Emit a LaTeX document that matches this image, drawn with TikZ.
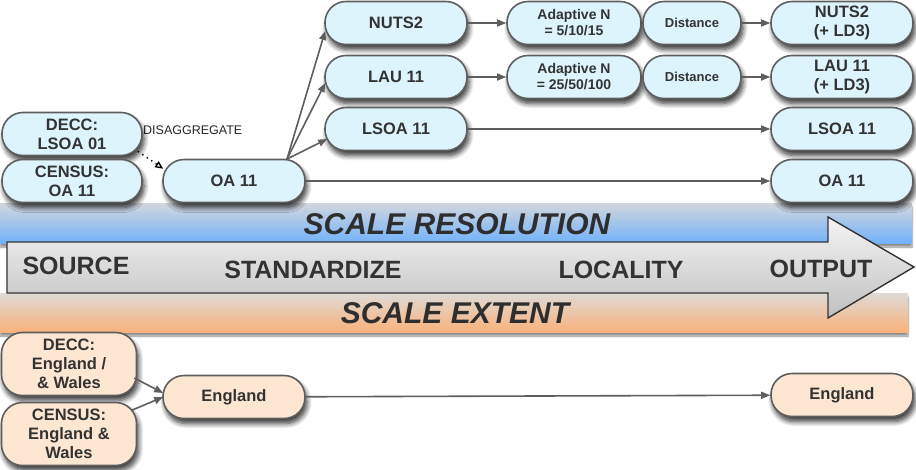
\documentclass[tikz,border=0pt]{standalone}
\usepackage{fontspec}
\setmainfont{Liberation Sans}
\usetikzlibrary{arrows.meta,shadows.blur,calc}
\definecolor{nodeblue}{HTML}{DDF4FD}
\definecolor{nodeorange}{HTML}{FDE6D2}
\definecolor{edge}{HTML}{5E5E5E}
\definecolor{txt}{HTML}{333333}
\definecolor{bandtop}{HTML}{D2D6DD}
\definecolor{bandblue}{HTML}{72B2FA}
\definecolor{bandorange}{HTML}{F9B27C}
\definecolor{bandotop}{HTML}{DEDAD6}
\tikzset{
  pill/.style={draw=edge, line width=1.6pt, rounded corners=21pt, minimum height=43pt,
    minimum width=142pt, inner sep=0pt, align=center, font=\bfseries\fontsize{16.5}{19}\selectfont,
    text=txt, fill=nodeblue, blur shadow={shadow xshift=2pt, shadow yshift=-5pt, shadow opacity=80, shadow blur steps=8, shadow blur radius=5pt}},
  small/.style={pill, font=\bfseries\fontsize{14}{16}\selectfont},
  orng/.style={fill=nodeorange},
  conn/.style={draw=edge, line width=1.6pt, -{Triangle[length=9pt,width=7pt]}},
  bigtxt/.style={text=txt, font=\bfseries\fontsize{25}{30}\selectfont, inner sep=0pt},
  bandtxt/.style={text=txt!90!black, font=\bfseries\itshape\fontsize{30}{36}\selectfont, inner sep=0pt},
  bandshadow/.style={blur shadow={shadow xshift=0pt, shadow yshift=-4pt, shadow opacity=45, shadow blur steps=6}}
}
\begin{document}
\begin{tikzpicture}[x=1pt,y=-1pt]
\useasboundingbox (0,0) rectangle (916,469);
% bands
\path[bandshadow, top color=bandtop, bottom color=bandblue] (0,203) rectangle (912,243);
\path[bandshadow, top color=bandotop, bottom color=bandorange] (0,293) rectangle (908,332);
% big arrow
\shade[draw=black!80, line width=1.4pt, top color=black!4, bottom color=black!25, line join=miter]
  (7,242) -- (828,242) -- (828,217) -- (914,267) -- (828,318) -- (828,293) -- (7,293) -- cycle;
\node[bandtxt] (res) at (457,224) {SCALE RESOLUTION};
\node[bandtxt] (ext) at (455,313) {SCALE EXTENT};
\node[bigtxt] (src) at (76,266) {SOURCE};
\node[bigtxt] (std) at (313,270) {STANDARDIZE};
\node[bigtxt] (loc) at (621,270) {LOCALITY};
\node[bigtxt] (out) at (821,269) {OUTPUT};
% top nodes
\node[pill, minimum width=140pt] (decc) at (72,134) {DECC:\\LSOA 01};
\node[pill, minimum width=140pt] (census) at (72,181) {CENSUS:\\OA 11};
\node[pill] (oa) at (234,181) {OA 11};
\node[pill] (nuts) at (396,23) {NUTS2};
\node[pill] (lau) at (396,77) {LAU 11};
\node[pill] (lsoa) at (396,129) {LSOA 11};
\node[small, minimum width=134pt] (ad1) at (574,23) {Adaptive N\\= 5/10/15};
\node[small, minimum width=98pt, font=\bfseries\fontsize{13}{16}\selectfont] (di1) at (692,23) {Distance};
\node[small, minimum width=134pt] (ad2) at (574,77) {Adaptive N\\= 25/50/100};
\node[small, minimum width=98pt, font=\bfseries\fontsize{13}{16}\selectfont] (di2) at (692,77) {Distance};
\node[pill] (nutsO) at (842,23) {NUTS2\\(+ LD3)};
\node[pill] (lauO) at (842,77) {LAU 11\\(+ LD3)};
\node[pill] (lsoaO) at (842,129) {LSOA 11};
\node[pill] (oaO) at (842,181) {OA 11};
% bottom nodes
\node[pill, orng, minimum width=135pt, minimum height=63pt] (dEng) at (69,364) {DECC:\\England /\\\& Wales};
\node[pill, orng, minimum width=135pt, minimum height=63pt] (cEng) at (69,434) {CENSUS:\\England \&\\Wales};
\node[pill, orng] (eng) at (234,397) {England};
\node[pill, orng] (engO) at (842,395) {England};
% connectors
\coordinate (fan) at (287,159);
\draw[conn] (fan) -- ($(nuts.west)+(1,8)$);
\draw[conn] (fan) -- ($(lau.west)+(1,6)$);
\draw[conn] (fan) -- ($(lsoa.west)+(3,10)$);
\draw[conn] (oa) -- (oaO);
\draw[conn] (lsoa) -- (lsoaO);
\draw[conn] (nuts) -- (ad1);
\draw[conn] (lau) -- (ad2);
\draw[conn] (di1) -- (nutsO);
\draw[conn] (di2) -- (lauO);
\draw[conn] (eng) -- (engO);
\draw[conn] ($(dEng.east)+(-3,14)$) -- ($(eng.west)+(1,-4)$);
\draw[conn] ($(cEng.east)+(-5,-24)$) -- ($(eng.west)+(1,0)$);
\draw[black, line width=1.4pt, dash pattern=on 1.4pt off 4pt, -{Triangle[open,length=8pt,width=7pt]}] ($(decc.south east)+(-5,-5)$) -- ($(oa.north west)+(1,10)$);
\node[anchor=west, inner sep=0pt, font=\fontsize{12.5}{14}\selectfont, text=black!85] (dis) at (143,130) {DISAGGREGATE};
\end{tikzpicture}
\end{document}
